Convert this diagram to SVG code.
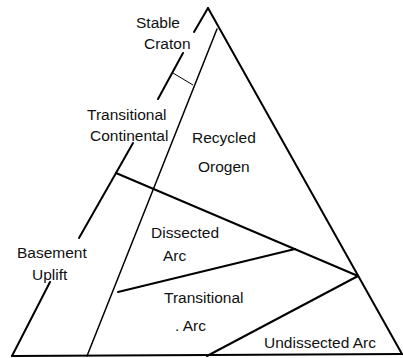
<svg xmlns="http://www.w3.org/2000/svg" width="403" height="358" viewBox="0 0 403 358">
<style>
.lbl{font-family:"Liberation Sans",Arial,sans-serif;font-size:15.5px;fill:#111}
.thick{stroke:#000;stroke-width:2;fill:none;stroke-linecap:round}
.mid{stroke:#000;stroke-width:1.5;fill:none;stroke-linecap:round}
.thin{stroke:#000;stroke-width:1;fill:none}
</style>
<rect width="403" height="358" fill="#fff"/>
<g id="connectors">
<line class="thick" x1="208" y1="8" x2="402" y2="354"/>
<line class="thick" x1="12" y1="356" x2="403" y2="354"/>
<line class="thick" x1="208" y1="8" x2="194" y2="32"/>
<line class="thick" x1="183" y1="53" x2="158" y2="99"/>
<line class="thick" x1="133" y1="143" x2="116" y2="173"/>
<line class="thick" x1="116" y1="173" x2="79" y2="238"/>
<line class="thick" x1="50" y1="282" x2="12" y2="356"/>
<line class="mid" x1="217" y1="29" x2="87" y2="356"/>
<line class="thin" x1="173" y1="73" x2="193" y2="85"/>
<line class="thick" x1="116" y1="173" x2="358" y2="276"/>
<line class="thick" x1="118" y1="292" x2="295" y2="249"/>
<line class="thick" x1="207" y1="356" x2="358" y2="276"/>
</g>
<g id="stable-craton"><text class="lbl" x="136" y="28">Stable</text><text class="lbl" x="144" y="49">Craton</text></g>
<g id="transitional-continental"><text class="lbl" x="87" y="120">Transitional</text><text class="lbl" x="90" y="141">Continental</text></g>
<g id="recycled-orogen"><text class="lbl" x="192" y="143">Recycled</text><text class="lbl" x="198" y="172">Orogen</text></g>
<g id="basement-uplift"><text class="lbl" x="17" y="258">Basement</text><text class="lbl" x="32" y="280">Uplift</text></g>
<g id="dissected-arc"><text class="lbl" x="151" y="238">Dissected</text><text class="lbl" x="163" y="261">Arc</text></g>
<g id="transitional-arc"><text class="lbl" x="164" y="303">Transitional</text><text class="lbl" x="175" y="331">. Arc</text></g>
<g id="undissected-arc"><text class="lbl" x="264" y="348">Undissected Arc</text></g>
</svg>
